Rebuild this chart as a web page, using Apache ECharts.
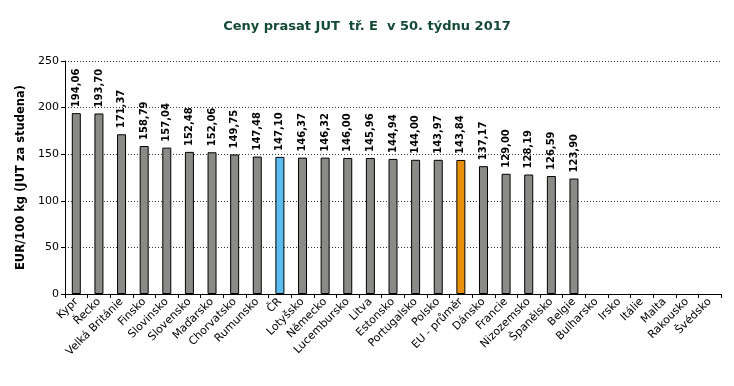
<!DOCTYPE html>
<html><head><meta charset="utf-8">
<script src="https://cdn.jsdelivr.net/npm/echarts@6/dist/echarts.min.js"></script>
<style>html,body{margin:0;padding:0;background:#fff}#c{width:734px;height:386px}</style>
</head><body><div id="c"></div>
<script>
const categories = ["Kypr","Řecko","Velká Británie","Finsko","Slovinsko","Slovensko","Maďarsko","Chorvatsko","Rumunsko","ČR","Lotyšsko","Německo","Lucembursko","Litva","Estonsko","Portugalsko","Polsko","EU - průměr","Dánsko","Francie","Nizozemsko","Španělsko","Belgie","Bulharsko","Irsko","Itálie","Malta","Rakousko","Švédsko"];
const values = [194.06,193.70,171.37,158.79,157.04,152.48,152.06,149.75,147.48,147.10,146.37,146.32,146.00,145.96,144.94,144.00,143.97,143.84,137.17,129.00,128.19,126.59,123.90,null,null,null,null,null,null];
const yTicks = [0,50,100,150,200,250];
const FONT = "DejaVu Sans, Verdana, sans-serif";
const colorFor = (name) => name === "ČR" ? "#5bbcf0" : (name === "EU - průměr" ? "#e88f0c" : "#8a8a86");
const chart = echarts.init(document.getElementById('c'));
chart.setOption({
  animation: false,
  title: {text: "Ceny prasat JUT  tř. E  v 50. týdnu 2017", left: 'center', top: 15,
    textStyle: {fontFamily: FONT, fontSize: 13, fontWeight: 'bold', color: '#134a33'}},
  grid: {left: 65, right: 13, top: 61, bottom: 92},
  xAxis: {type: 'category', data: categories, boundaryGap: true,
    axisLine: {lineStyle: {color: '#000', width: 1}},
    axisTick: {show: true, alignWithLabel: false, length: 4, lineStyle: {color: '#000'}},
    axisLabel: {rotate: 45, interval: 0, fontFamily: FONT, fontSize: 11, color: '#000', margin: 6}},
  yAxis: {type: 'value', min: 0, max: 250, interval: 50,
    name: "EUR/100 kg (JUT za studena)", nameLocation: 'middle', nameGap: 34,
    nameTextStyle: {fontFamily: FONT, fontSize: 11.5, fontWeight: 'bold', color: '#000'},
    axisLine: {show: true, lineStyle: {color: '#000'}},
    axisTick: {show: true, length: 4, lineStyle: {color: '#000'}},
    axisLabel: {fontFamily: FONT, fontSize: 11, color: '#000', margin: 6,
      formatter: v => yTicks.includes(v) ? String(v) : ''},
    splitLine: {show: true, lineStyle: {color: '#333', type: [1, 2], width: 1}}},
  series: [{type: 'bar', barWidth: 9,
    data: values.map((v, i) => ({value: v, itemStyle: {color: colorFor(categories[i])}})),
    itemStyle: {borderColor: '#000', borderWidth: 1},
    label: {show: true, position: 'top', rotate: 90, align: 'left', verticalAlign: 'middle', distance: 6,
      fontFamily: FONT, fontSize: 10, fontWeight: 'bold', color: '#000',
      formatter: p => p.value == null ? '' : p.value.toFixed(2).replace('.', ',')}}]
});
</script></body></html>
